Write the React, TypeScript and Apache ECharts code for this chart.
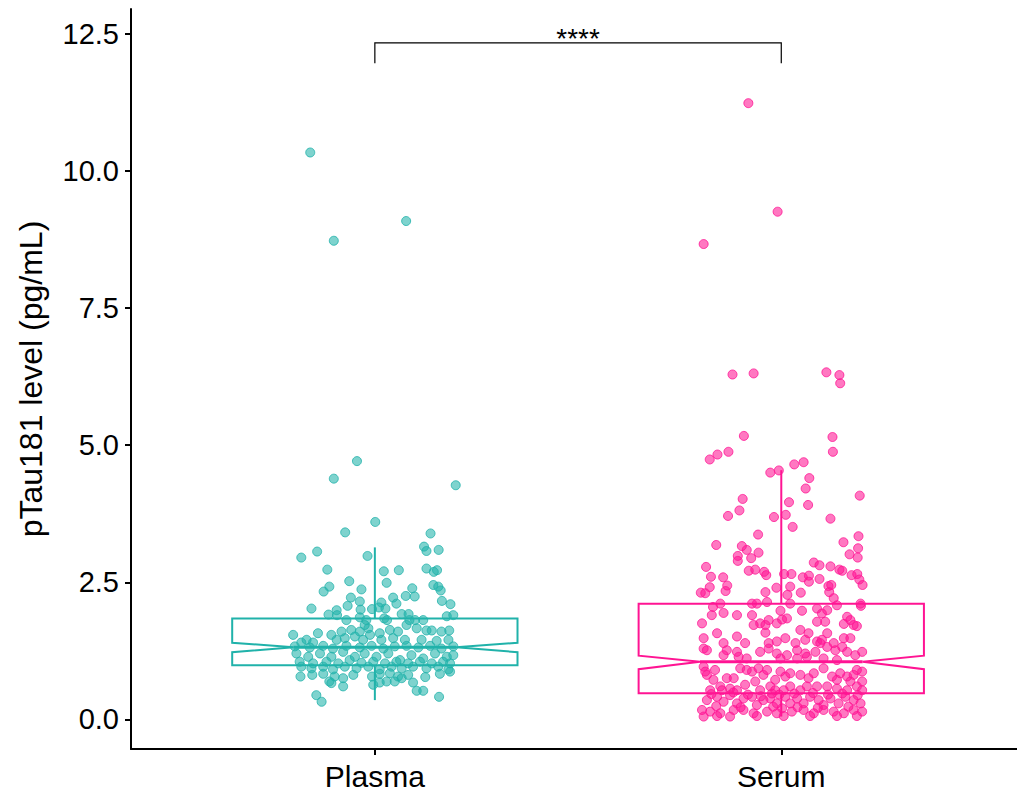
import React, { useEffect, useRef } from "react";
import * as echarts from "echarts";

const categories = ["Plasma", "Serum"];
const yTicks = [0, 2.5, 5, 7.5, 10, 12.5];
const yTitle = "pTau181 level (pg/mL)";
const colors = ["#20B2AA", "#FF1493"];
const pointColors = ["rgba(32,178,170,0.72)", "rgba(255,20,147,0.72)"];

// [lowerWhisker, Q1, notchLow, median, notchHigh, Q3, upperWhisker]
const plasmaBox = [0.35, 0.985, 1.225, 1.313, 1.397, 1.84, 3.136];
const serumBox = [0.05, 0.474, 0.915, 1.05, 1.16, 2.108, 4.545];

// significance bracket: [from category, to category, top, tick end]
const bracket = [1, 2, 12.34, 11.97];
const sigLabel = "****";

// jittered points: [horizontal jitter offset, value]
const plasmaPoints = [
  [-0.159, 10.34], [0.077, 9.09], [-0.101, 8.73], [-0.044, 4.71], [-0.101, 4.39], [0.199, 4.27],
  [0.001, 3.6], [-0.073, 3.41], [0.137, 3.39],
  [-0.181, 2.95], [-0.142, 3.06], [-0.018, 2.98], [0.121, 3.15], [0.127, 3.07], [0.157, 3.09],
  [-0.117, 2.73], [0.022, 2.7], [0.059, 2.72], [0.127, 2.75], [0.145, 2.69], [0.153, 2.72],
  [-0.063, 2.52], [0.029, 2.49], [-0.112, 2.42], [-0.126, 2.33], [-0.033, 2.37], [0.144, 2.45],
  [0.156, 2.42], [0.162, 2.35], [0.092, 2.39], [0.076, 2.25], [0.098, 2.24], [0.045, 2.22],
  [-0.059, 2.22], [-0.037, 2.15], [0.016, 2.13], [0.053, 2.11], [0.165, 2.16], [0.186, 2.1],
  [-0.156, 2.02], [-0.094, 1.99], [-0.067, 2.07], [-0.035, 2.0], [-0.007, 2.01], [0.01, 2.04],
  [0.026, 2.02], [0.066, 1.92], [0.083, 1.92], [0.177, 1.88], [0.193, 1.9], [-0.114, 1.91],
  [-0.093, 1.9], [-0.037, 1.86], [0.023, 1.84], [-0.07, 1.81], [-0.021, 1.81], [0.03, 1.81],
  [0.099, 1.81], [0.119, 1.81], [0.085, 1.81],
  [-0.201, 1.54], [-0.14, 1.57], [-0.107, 1.54], [-0.082, 1.6], [-0.058, 1.63], [-0.037, 1.6],
  [-0.016, 1.66], [-0.025, 1.72], [-0.012, 1.54], [0.012, 1.57], [0.037, 1.63], [0.057, 1.6],
  [0.078, 1.72], [0.103, 1.66], [0.127, 1.62], [0.14, 1.62], [0.164, 1.6], [0.183, 1.62],
  [-0.049, 1.51], [-0.074, 1.48], [-0.094, 1.45], [-0.168, 1.45], [-0.181, 1.4], [-0.152, 1.4],
  [-0.029, 1.45], [0.016, 1.45], [0.045, 1.48], [0.074, 1.45], [0.115, 1.45], [0.152, 1.43],
  [0.181, 1.45],
  [-0.197, 1.33], [-0.16, 1.31], [-0.127, 1.34], [-0.103, 1.29], [-0.07, 1.34], [-0.037, 1.31],
  [-0.008, 1.34], [0.021, 1.29], [0.049, 1.33], [0.078, 1.34], [0.107, 1.31], [0.136, 1.34],
  [0.164, 1.29], [0.193, 1.33],
  [-0.193, 1.2], [-0.164, 1.14], [-0.135, 1.2], [-0.107, 1.14], [-0.078, 1.23], [-0.049, 1.14],
  [-0.025, 1.2], [0.004, 1.14], [0.033, 1.2], [0.062, 1.08], [0.09, 1.17], [0.119, 1.11],
  [0.148, 1.2], [0.177, 1.14], [0.193, 1.17],
  [-0.185, 1.05], [-0.152, 1.02], [-0.119, 1.05], [-0.09, 1.02], [-0.062, 1.08], [-0.033, 1.03],
  [-0.004, 1.05], [0.025, 1.02], [0.053, 1.05], [0.082, 1.02], [0.111, 1.05], [0.14, 1.02],
  [0.168, 1.05], [0.185, 1.02],
  [-0.181, 0.96], [-0.156, 0.93], [-0.127, 0.96], [-0.103, 0.91], [-0.074, 0.96], [-0.045, 0.93],
  [-0.016, 0.96], [0.012, 0.91], [0.041, 0.96], [0.066, 0.93], [0.094, 0.96], [0.127, 0.93],
  [0.156, 0.96], [0.181, 0.91],
  [-0.183, 0.78], [-0.154, 0.81], [-0.127, 0.83], [-0.099, 0.78], [-0.078, 0.75], [-0.053, 0.81],
  [-0.007, 0.78], [0.012, 0.83], [0.037, 0.84], [0.057, 0.78], [0.082, 0.81], [0.124, 0.77],
  [0.16, 0.83], [0.185, 0.87],
  [-0.112, 0.69], [-0.107, 0.66], [-0.078, 0.6], [-0.004, 0.63], [0.012, 0.67], [0.029, 0.69],
  [0.049, 0.69], [0.066, 0.75], [0.094, 0.67], [0.103, 0.52], [0.119, 0.52], [0.158, 0.41],
  [-0.144, 0.44], [-0.131, 0.32],
];

const serumPoints = [
  [-0.081, 11.24], [-0.009, 9.26], [-0.191, 8.67], [-0.12, 6.29], [-0.068, 6.31], [0.111, 6.33],
  [0.143, 6.28], [0.145, 6.13], [-0.092, 5.17], [0.126, 5.15], [0.127, 4.88], [-0.176, 4.74],
  [-0.157, 4.83], [-0.13, 4.88], [-0.027, 4.5], [-0.006, 4.54], [0.032, 4.65], [0.055, 4.69],
  [0.069, 4.4], [0.06, 4.21], [0.193, 4.08], [0.019, 3.96], [0.066, 3.91], [-0.095, 4.02],
  [-0.103, 3.81], [-0.131, 3.71], [-0.018, 3.69], [0.011, 3.73], [0.028, 3.51], [0.121, 3.66],
  [-0.057, 3.37], [-0.16, 3.18], [-0.097, 3.16], [-0.085, 3.09], [-0.056, 3.04], [-0.107, 2.98],
  [-0.107, 2.89], [-0.074, 2.94], [0.153, 3.23], [0.19, 3.34], [0.168, 3.01], [0.189, 3.12],
  [0.188, 2.95], [-0.185, 2.78], [-0.08, 2.71], [-0.064, 2.73], [-0.042, 2.69], [-0.037, 2.63],
  [0.08, 2.86], [0.094, 2.81], [0.121, 2.79], [0.143, 2.73], [0.15, 2.71], [0.173, 2.63],
  [0.187, 2.65], [0.192, 2.55], [0.2, 2.45], [-0.173, 2.6], [-0.143, 2.59], [-0.176, 2.41],
  [-0.133, 2.44], [-0.137, 2.34], [-0.198, 2.31], [-0.187, 2.3], [0.007, 2.65], [0.025, 2.65],
  [0.053, 2.59], [0.068, 2.62], [0.068, 2.51], [0.094, 2.56], [0.116, 2.43], [0.123, 2.45],
  [0.022, 2.42], [-0.012, 2.4], [-0.039, 2.32], [0.048, 2.31], [0.015, 2.27], [0.118, 2.32],
  [0.129, 2.21], [0.195, 2.11], [0.196, 2.07],
  [-0.168, 2.05], [-0.15, 2.11], [-0.171, 1.9], [-0.142, 1.94], [-0.109, 1.9], [-0.072, 2.11],
  [-0.06, 2.11], [-0.035, 2.14], [-0.002, 1.98], [0.022, 2.11], [0.051, 1.98], [0.088, 2.02],
  [0.1, 1.93], [0.113, 1.99], [0.137, 2.08], [0.162, 1.87], [0.17, 1.81], [0.186, 1.7],
  [-0.195, 1.75], [-0.072, 1.9], [-0.031, 1.81], [-0.011, 1.75], [0.002, 1.82], [-0.039, 1.72],
  [-0.052, 1.75], [0.014, 1.84], [0.088, 1.78], [0.108, 1.78], [0.154, 1.74],
  [-0.158, 1.57], [-0.191, 1.48], [-0.109, 1.51], [-0.089, 1.39], [-0.068, 1.72], [-0.039, 1.58],
  [-0.011, 1.42], [0.01, 1.48], [0.047, 1.63], [0.067, 1.57], [0.059, 1.45], [0.113, 1.57],
  [0.088, 1.42], [0.1, 1.45], [0.129, 1.39], [0.154, 1.48], [0.17, 1.48], [0.178, 1.72],
  [-0.191, 1.29], [-0.183, 1.26], [-0.142, 1.39], [-0.134, 1.26], [-0.142, 1.17], [-0.109, 1.23],
  [-0.105, 1.14], [-0.085, 1.11], [-0.052, 1.23], [-0.031, 1.39], [-0.031, 1.29], [-0.011, 1.2],
  [-0.002, 1.11], [0.014, 1.17], [0.035, 1.39], [0.039, 1.26], [0.059, 1.2], [0.063, 1.14],
  [0.084, 1.23], [0.096, 1.39], [0.113, 1.32], [0.133, 1.26], [0.15, 1.32], [0.162, 1.23],
  [0.182, 1.17], [0.199, 1.23], [0.039, 1.11], [0.104, 1.11], [0.137, 1.08],
  [-0.187, 0.87], [-0.167, 0.72], [-0.15, 0.6], [-0.191, 0.96], [-0.175, 0.53], [-0.134, 0.75],
  [-0.117, 0.75], [-0.101, 0.93], [-0.085, 0.9], [-0.072, 0.87], [-0.056, 0.93], [-0.064, 0.69],
  [-0.044, 0.81], [-0.035, 0.9], [-0.027, 0.6], [-0.015, 0.72], [-0.002, 0.87], [0.01, 0.78],
  [0.022, 0.84], [0.047, 0.81], [0.067, 0.75], [0.08, 0.84], [0.104, 0.93], [0.125, 0.78],
  [0.137, 0.72], [0.145, 0.84], [0.162, 0.78], [0.178, 0.81], [0.186, 0.9], [0.199, 0.87],
  [0.199, 0.69], [0.186, 0.6], [0.17, 0.69], [-0.126, 0.56], [-0.109, 0.53], [-0.089, 0.63],
  [-0.052, 0.53], [-0.015, 0.53], [0.006, 0.53], [0.022, 0.6], [0.063, 0.6], [0.088, 0.6],
  [0.113, 0.6], [0.137, 0.56], [0.162, 0.53], [-0.183, 0.81], [-0.163, 0.9], [-0.146, 0.53],
  [-0.023, 0.47], [0.047, 0.53], [0.199, 0.53],
  [-0.183, 0.35], [-0.158, 0.41], [-0.142, 0.32], [-0.126, 0.44], [-0.109, 0.29], [-0.093, 0.38],
  [-0.072, 0.41], [-0.06, 0.26], [-0.044, 0.35], [-0.027, 0.38], [-0.011, 0.29], [0.01, 0.41],
  [0.022, 0.29], [0.039, 0.38], [0.055, 0.29], [0.071, 0.41], [0.092, 0.35], [0.104, 0.26],
  [0.121, 0.38], [0.141, 0.29], [0.158, 0.41], [0.178, 0.35], [0.195, 0.29],
  [-0.195, 0.17], [-0.175, 0.14], [-0.15, 0.11], [-0.117, 0.17], [-0.093, 0.17], [-0.068, 0.11],
  [-0.035, 0.14], [-0.011, 0.11], [0.002, 0.2], [0.026, 0.14], [0.055, 0.17], [0.08, 0.11],
  [0.104, 0.17], [0.129, 0.14], [0.154, 0.11], [0.178, 0.17], [0.199, 0.14],
  [-0.191, 0.05], [-0.158, 0.06], [-0.126, 0.05], [-0.06, 0.06], [0.006, 0.06], [0.071, 0.06],
  [0.137, 0.06], [0.186, 0.06],
  [-0.172, 0.46], [-0.118, 0.49], [-0.082, 0.45], [-0.05, 0.42], [-0.005, 0.45], [0.032, 0.47],
  [0.078, 0.48], [0.115, 0.45], [0.15, 0.47], [0.188, 0.44], [-0.16, 0.24], [-0.1, 0.22],
  [-0.02, 0.23], [0.04, 0.22], [0.09, 0.21], [0.165, 0.23],
];

const FONT = "'Liberation Sans', Arial, sans-serif";

export default function App() {
  const ref = useRef<HTMLDivElement>(null);
  useEffect(() => {
    if (!ref.current) return;
    const chart = echarts.init(ref.current, null, { renderer: "svg" });
    const boxHalf = 0.351;
    const notchHalf = 0.2;
    const boxData = [
      [1, ...plasmaBox],
      [2, ...serumBox],
    ];
    const option: any = {
      animation: false,
      backgroundColor: "#fff",
      grid: { left: 131, right: 0, top: 9, bottom: 47 },
      xAxis: {
        type: "value",
        min: 0.4,
        max: 2.58,
        splitLine: { show: false },
        axisLine: { onZero: false, lineStyle: { color: "#000", width: 2 } },
        axisTick: { show: true, customValues: [1, 2], length: 6, lineStyle: { color: "#000", width: 2 } },
        axisLabel: {
          customValues: [1, 2],
          formatter: (v: number) => categories[Math.round(v) - 1],
          color: "#000",
          fontSize: 30,
          fontFamily: FONT,
          margin: 12,
        },
      },
      yAxis: {
        type: "value",
        min: -0.542,
        max: 12.958,
        name: yTitle,
        nameLocation: "middle",
        nameGap: 84,
        nameTextStyle: { color: "#000", fontSize: 32, fontFamily: FONT },
        splitLine: { show: false },
        axisLine: { show: true, onZero: false, lineStyle: { color: "#000", width: 2 } },
        axisTick: { show: true, customValues: yTicks, length: 6, lineStyle: { color: "#000", width: 2 } },
        axisLabel: {
          customValues: yTicks,
          formatter: (v: number) => v.toFixed(1),
          color: "#000",
          fontSize: 29,
          fontFamily: FONT,
          margin: 12,
        },
      },
      series: [
        {
          type: "scatter",
          z: 2,
          symbolSize: 9,
          data: plasmaPoints.map((p) => [1 + p[0], p[1]]),
          itemStyle: { color: pointColors[0], borderColor: colors[0], borderWidth: 1 },
        },
        {
          type: "scatter",
          z: 2,
          symbolSize: 9,
          data: serumPoints.map((p) => [2 + p[0], p[1]]),
          itemStyle: { color: pointColors[1], borderColor: colors[1], borderWidth: 1 },
        },
        {
          type: "custom",
          z: 3,
          clip: false,
          data: boxData,
          renderItem: (params: any, api: any) => {
            const x = api.value(0);
            const lw = api.value(1), q1 = api.value(2), nl = api.value(3), med = api.value(4),
              nh = api.value(5), q3 = api.value(6), uw = api.value(7);
            const c = colors[params.dataIndex];
            const p = (dx: number, y: number) => api.coord([x + dx, y]);
            const poly = [
              p(-boxHalf, q3), p(boxHalf, q3), p(boxHalf, nh), p(notchHalf, med), p(boxHalf, nl),
              p(boxHalf, q1), p(-boxHalf, q1), p(-boxHalf, nl), p(-notchHalf, med), p(-boxHalf, nh),
            ];
            const style = { stroke: c, lineWidth: 2, fill: "none" };
            const a = p(0, q3), b = p(0, uw), d = p(0, q1), e = p(0, lw);
            const m1 = p(-notchHalf, med), m2 = p(notchHalf, med);
            return {
              type: "group",
              children: [
                { type: "line", shape: { x1: a[0], y1: a[1], x2: b[0], y2: b[1] }, style },
                { type: "line", shape: { x1: d[0], y1: d[1], x2: e[0], y2: e[1] }, style },
                { type: "polygon", shape: { points: poly }, style },
                { type: "line", shape: { x1: m1[0], y1: m1[1], x2: m2[0], y2: m2[1] }, style: { ...style, lineWidth: 3 } },
              ],
            };
          },
        },
        {
          type: "custom",
          z: 3,
          clip: false,
          data: [bracket],
          renderItem: (params: any, api: any) => {
            const x1 = api.value(0), x2 = api.value(1), top = api.value(2), low = api.value(3);
            const pts = [api.coord([x1, low]), api.coord([x1, top]), api.coord([x2, top]), api.coord([x2, low])];
            const mid = api.coord([(x1 + x2) / 2, top]);
            return {
              type: "group",
              children: [
                { type: "polyline", shape: { points: pts }, style: { stroke: "#000", lineWidth: 1.2, fill: "none" } },
                {
                  type: "text",
                  x: mid[0],
                  y: mid[1] - 4,
                  style: {
                    text: sigLabel,
                    fill: "#000",
                    font: `28px ${FONT}`,
                    align: "center",
                    verticalAlign: "middle",
                  },
                },
              ],
            };
          },
        },
      ],
    };
    chart.setOption(option);
    return () => chart.dispose();
  }, []);
  return (
    <div
      ref={ref}
      style={{ position: "fixed", left: 0, top: 0, width: 1017, height: 796, background: "#fff" }}
    />
  );
}
